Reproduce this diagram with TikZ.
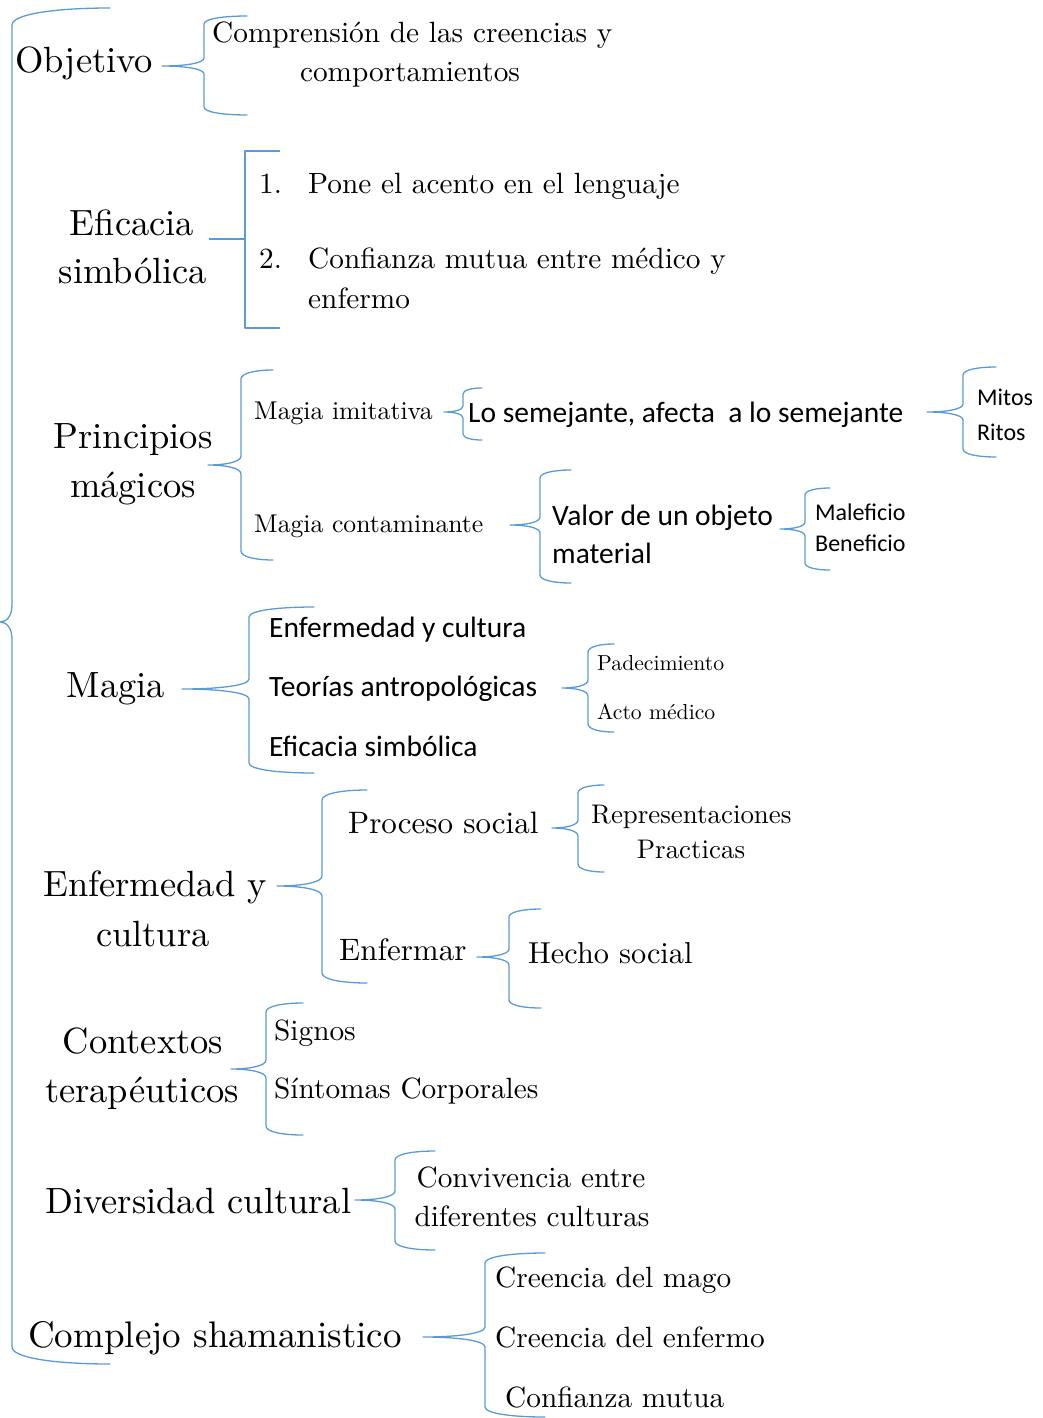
\documentclass[tikz,border=0pt]{standalone}
\usepackage{fontspec}
\setmainfont{lmroman10-regular}[Extension=.otf]
\setsansfont{Carlito}
\definecolor{brc}{HTML}{5B9BD5}
\newcommand\fs[1]{\fontsize{#1}{#1}\selectfont}
\tikzset{
  br/.style={draw=brc, line width=1.3pt, line join=round, line cap=round},
  tl/.style={inner sep=0pt, anchor=base west},
  tc/.style={inner sep=0pt, anchor=base},
  big/.style={font=\fs{36.5}},
  mid/.style={font=\fs{29.3}},
  sml/.style={font=\fs{25.7}},
  snsA/.style={font=\sffamily\fs{29.5}},
  snsB/.style={font=\sffamily\fs{24}},
}
% tip x, vertical x, end x, top y, mid y, bottom y, corner r
\newcommand\brc[7]{%
  \draw[br] (#3,#4) .. controls ({#2+0.45*(#3-#2)},#4) and (#2,{#4+0.35*#7}) .. (#2,{#4+#7})
    -- (#2,{#5-#7}) .. controls (#2,{#5-0.35*#7}) and ({#1+0.55*(#2-#1)},#5) .. (#1,#5)
    .. controls ({#1+0.55*(#2-#1)},#5) and (#2,{#5+0.35*#7}) .. (#2,{#5+#7})
    -- (#2,{#6-#7}) .. controls (#2,{#6-0.35*#7}) and ({#2+0.45*(#3-#2)},#6) .. (#3,#6);}
\begin{document}
\begin{tikzpicture}[x=1pt,y=-1pt]
\useasboundingbox (0,0) rectangle (1043,1418);
% main brace
\brc{0}{12}{110}{8}{622}{1364}{17}
% Objetivo
\node[tl,big] (obj) at (15,73) {Objetivo};
\brc{162}{204}{247}{16}{66}{115}{8}
\node[tl,mid] (comp1) at (212,43) {Comprensión de las creencias y};
\node[tc,mid] (comp2) at (410,82) {comportamientos};
% Eficacia simbolica
\node[tc,big] (efic1) at (132,235) {Eficacia};
\node[tc,big] (efic2) at (133,283) {simbólica};
\coordinate (ebt) at (280,151);
\coordinate (ebb) at (280,328);
\coordinate (ebl) at (209,239);
\draw[br, line cap=butt] (ebl) -- (245,239);
\draw[br, line cap=butt] (ebt) -- (245,151) -- (245,328) -- (ebb);
\node[tl,mid] (n1) at (259,193) {1.};
\node[tl,mid] (p1) at (308,193) {Pone el acento en el lenguaje};
\node[tl,mid] (n2) at (259,268) {2.};
\node[tl,mid] (p2) at (308,268) {Confianza mutua entre médico y};
\node[tl,mid] (p2b) at (308,308) {enfermo};
% Principios magicos
\node[tc,big] (prin1) at (133,448) {Principios};
\node[tc,big] (prin2) at (133,497) {mágicos};
\brc{208}{241}{273}{370}{465}{560}{9}
\node[tl,sml] (mimi) at (254,419) {Magia imitativa};
\node[tl,sml] (mcon) at (254,532) {Magia contaminante};
\brc{444}{463}{482}{388}{412}{440}{6}
\node[tl,snsA] (lose) at (468,422) {Lo semejante, afecta\ \ a lo semejante};
\brc{927}{963}{996}{367}{412}{457}{8}
\node[tl,snsB] (mitos) at (977,405) {Mitos};
\node[tl,snsB] (ritos) at (977,440) {Ritos};
\brc{510}{540}{571}{470}{525}{583}{8}
\node[tl,snsA] (valor) at (552,525) {Valor de un objeto};
\node[tl,snsA] (mater) at (552,563) {material};
\brc{780}{805}{830}{488}{529}{570}{7}
\node[tl,snsB] (malef) at (815,520) {Maleficio};
\node[tl,snsB] (benef) at (815,551) {Beneficio};
% Magia
\node[tc,big] (magia) at (116,697) {Magia};
\brc{182}{249}{314}{607}{689}{773}{10}
\node[tl,snsA] (enfc) at (269,637) {Enfermedad y cultura};
\node[tl,snsA] (teor) at (269,696) {Teorías antropológicas};
\node[tl,snsA] (efsim) at (269,756) {Eficacia simbólica};
\brc{562}{588}{614}{644}{688}{732}{8}
\node[tl,font=\fs{21.7}] (padec) at (597,670) {Padecimiento};
\node[tl,font=\fs{21.7}] (acto) at (597,719) {Acto médico};
% Enfermedad y cultura
\node[tc,big] (enf1) at (155,896) {Enfermedad y};
\node[tc,big] (enf2) at (153,946) {cultura};
\brc{277}{322}{367}{790}{886}{983}{10}
\node[tl,font=\fs{31}] (proc) at (348,833) {Proceso social};
\brc{552}{578}{604}{785}{828}{872}{8}
\node[tl,font=\fs{26.9}] (repr) at (591,823) {Representaciones};
\node[tc,font=\fs{26.9}] (pract) at (691,858) {Practicas};
\node[tl,font=\fs{31}] (enfm) at (339,960) {Enfermar};
\brc{477}{509}{541}{909}{957}{1008}{8}
\node[tl,font=\fs{30.3}] (hecho) at (528,963) {Hecho social};
% Contextos terapeuticos
\node[tc,big] (cont1) at (143,1053) {Contextos};
\node[tc,big] (cont2) at (142,1102) {terapéuticos};
\brc{231}{266}{303}{1003}{1069}{1135}{9}
\node[tl,mid] (signos) at (274,1040) {Signos};
\node[tl,mid] (sint) at (274,1098) {Síntomas Corporales};
% Diversidad cultural
\node[tl,big] (div) at (45,1213) {Diversidad cultural};
\brc{355}{395}{435}{1151}{1200}{1250}{9}
\node[tc,mid] (conv1) at (531,1187) {Convivencia entre};
\node[tc,mid] (conv2) at (532,1226) {diferentes culturas};
% Complejo shamanistico
\node[tl,font=\fs{37}] (compl) at (28,1347) {Complejo shamanistico};
\brc{423}{485}{545}{1253}{1337}{1417}{10}
\node[tl,mid] (cre1) at (495,1287) {Creencia del mago};
\node[tl,mid] (cre2) at (495,1347) {Creencia del enfermo};
\node[tl,mid] (conf) at (505,1407) {Confianza mutua};
\end{tikzpicture}
\end{document}
